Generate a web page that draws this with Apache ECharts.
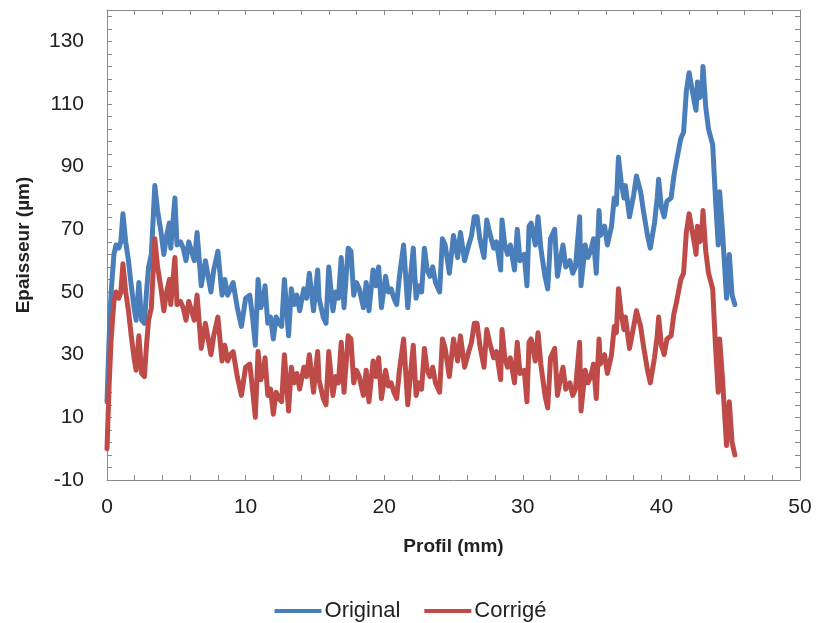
<!DOCTYPE html>
<html>
<head>
<meta charset="utf-8">
<script src="https://cdn.jsdelivr.net/npm/echarts@6/dist/echarts.min.js"></script>
<style>html,body{margin:0;padding:0;background:#fff}#c{width:821px;height:623px}</style>
</head>
<body>
<div id="c"></div>
<script>
const profil = [0.0,0.15,0.3,0.5,0.65,0.85,1.0,1.15,1.35,1.55,1.75,1.95,2.1,2.3,2.5,2.7,2.85,3.0,3.2,3.45,3.65,3.9,4.1,4.3,4.5,4.6,4.9,5.05,5.3,5.5,5.7,5.9,6.1,6.3,6.5,6.8,7.1,7.3,7.5,7.7,8.0,8.3,8.5,8.7,8.9,9.1,9.4,9.7,10.0,10.3,10.5,10.7,10.9,11.1,11.3,11.4,11.6,11.8,12.0,12.2,12.4,12.6,12.8,13.1,13.3,13.5,13.7,13.9,14.2,14.4,14.6,14.9,15.2,15.3,15.6,15.8,16.0,16.3,16.5,16.7,16.9,17.1,17.4,17.6,17.8,18.0,18.2,18.5,18.7,18.9,19.2,19.4,19.6,19.8,20.1,20.3,20.5,20.7,20.9,21.1,21.4,21.7,21.9,22.1,22.3,22.5,22.7,22.9,23.1,23.3,23.5,23.7,24.0,24.2,24.4,24.7,25.0,25.3,25.5,25.8,26.1,26.3,26.5,26.7,26.9,27.2,27.4,27.6,27.9,28.1,28.4,28.5,28.7,28.9,29.1,29.4,29.6,29.8,30.1,30.3,30.45,30.6,30.9,31.1,31.3,31.6,31.8,32.0,32.3,32.5,32.7,32.9,33.1,33.4,33.6,33.8,34.1,34.2,34.5,34.7,34.9,35.1,35.3,35.5,35.6,35.9,36.1,36.4,36.6,36.75,36.9,37.1,37.3,37.4,37.7,38.0,38.2,38.5,38.7,39.0,39.2,39.5,39.7,39.8,40.0,40.2,40.4,40.7,40.9,41.1,41.4,41.6,41.8,42.0,42.2,42.4,42.5,42.6,42.75,42.9,43.0,43.2,43.4,43.7,43.9,44.1,44.2,44.4,44.7,44.9,45.1,45.3];

const original = [15,35,50,62,65,64,66,75,66,60,52,45,41,53,41,40,50,58,62,84,76,69,62,68,72,64,80,65,66,64,60,66,63,60,69,52,60,55,50,57,63,49,54,49,51,53,45,39,48,49,42,33,54,45,48,52,40,42,35,42,40,39,54,36,51,46,49,44,51,48,56,44,57,48,42,40,58,44,50,48,61,45,64,63,49,53,51,45,53,44,57,52,58,45,55,50,51,48,46,55,65,45,55,64,48,52,50,64,57,55,58,53,50,67,65,56,68,61,69,60,65,68,74,74,67,61,73,69,64,66,57,73,65,62,65,57,70,60,62,52,71,72,65,74,64,55,51,67,70,55,60,65,58,60,56,58,74,52,65,61,63,67,56,76,68,71,65,71,80,78,93,85,80,84,74,81,87,82,76,68,64,72,80,86,77,74,79,80,87,92,99,101,114,120,115,110,108,117,112,113,122,109,102,97,80,65,82,70,48,62,49,46];

const corrige = [0,20,35,47,50,48,50,59,50,44,36,29,25,36,24,23,33,41,45,67,58,51,44,50,54,46,61,46,47,45,41,47,44,41,49,32,40,35,30,36,42,28,33,28,30,31,23,17,26,27,19,10,31,22,25,29,17,19,11,18,16,15,30,12,26,21,24,19,26,23,30,18,31,22,16,14,31,17,23,21,34,18,36,35,21,25,23,17,25,15,28,23,29,16,25,20,21,18,16,25,35,14,24,33,17,21,19,32,25,23,26,21,18,35,32,23,35,28,36,26,31,34,40,40,33,26,38,34,29,31,22,38,29,26,29,21,34,24,25,15,34,35,28,37,27,17,13,29,32,17,22,26,19,21,17,19,34,12,25,21,23,27,16,35,27,30,24,30,39,37,51,43,38,42,32,39,44,39,33,25,21,29,36,42,33,30,35,36,43,47,54,56,69,75,70,65,62,71,66,67,76,63,56,51,33,18,35,23,1,15,2,-2];

const seriesNames = ['Original', 'Corrigé'];
const xTickLabels = [0, 10, 20, 30, 40, 50];
const yTickLabels = [-10, 10, 30, 50, 70, 90, 110, 130];

const toPairs = arr => profil.map((x, i) => [x, arr[i]]);

const chart = echarts.init(document.getElementById('c'), null, {renderer: 'canvas'});
const axisGray = '#8a8a8a';
const labelFont = {color: '#222', fontSize: 21, fontFamily: 'Liberation Sans, Arial, sans-serif'};

const xBase = {
  type: 'value', min: 0, max: 50, interval: 2,
  axisLine: {show: true, onZero: false, lineStyle: {color: axisGray, width: 1}},
  axisTick: {show: true, inside: true, length: 5, lineStyle: {color: axisGray}},
  splitLine: {show: false}
};
const yBase = {
  type: 'value', min: -10, max: 140, interval: 4,
  axisLine: {show: true, onZero: false, lineStyle: {color: axisGray, width: 1}},
  axisTick: {show: true, inside: true, length: 5, lineStyle: {color: axisGray}},
  splitLine: {show: false}
};

chart.setOption({
  animation: false,
  backgroundColor: '#fff',
  grid: {left: 107, right: 21, top: 10, bottom: 143, containLabel: false},
  legend: {
    data: seriesNames,
    top: 595, left: 'center',
    icon: 'rect', itemWidth: 47, itemHeight: 4, itemGap: 24,
    textStyle: {color: '#222', fontSize: 22, fontFamily: 'Liberation Sans, Arial, sans-serif', padding: [0, 0, 0, -2]}
  },
  xAxis: [
    Object.assign({}, xBase, {
      position: 'bottom',
      name: 'Profil (mm)', nameLocation: 'middle', nameGap: 57,
      nameTextStyle: {color: '#222', fontSize: 19, fontWeight: 'bold', fontFamily: 'Liberation Sans, Arial, sans-serif'},
      axisLabel: Object.assign({}, labelFont, {margin: 17,
        formatter: v => xTickLabels.indexOf(v) >= 0 ? String(v) : ''})
    }),
    Object.assign({}, xBase, {position: 'top', axisLabel: {show: false}})
  ],
  yAxis: [
    Object.assign({}, yBase, {
      position: 'left',
      name: 'Epaisseur (µm)', nameLocation: 'middle', nameGap: 74,
      nameTextStyle: {color: '#222', fontSize: 19, fontWeight: 'bold', fontFamily: 'Liberation Sans, Arial, sans-serif'},
      axisLabel: Object.assign({}, labelFont, {margin: 23,
        formatter: v => yTickLabels.indexOf(Math.round(v)) >= 0 && Math.abs(v - Math.round(v)) < 1e-6 ? String(Math.round(v)) : ''})
    }),
    Object.assign({}, yBase, {position: 'right', axisLabel: {show: false}})
  ],
  series: [
    {
      name: seriesNames[0], type: 'line', data: toPairs(original),
      showSymbol: false, symbol: 'none',
      lineStyle: {color: '#4a7ebb', width: 5, join: 'round', cap: 'round'},
      itemStyle: {color: '#4a7ebb'}
    },
    {
      name: seriesNames[1], type: 'line', data: toPairs(corrige),
      showSymbol: false, symbol: 'none',
      lineStyle: {color: '#be4b48', width: 5, join: 'round', cap: 'round'},
      itemStyle: {color: '#be4b48'}
    }
  ]
});
</script>
</body>
</html>
